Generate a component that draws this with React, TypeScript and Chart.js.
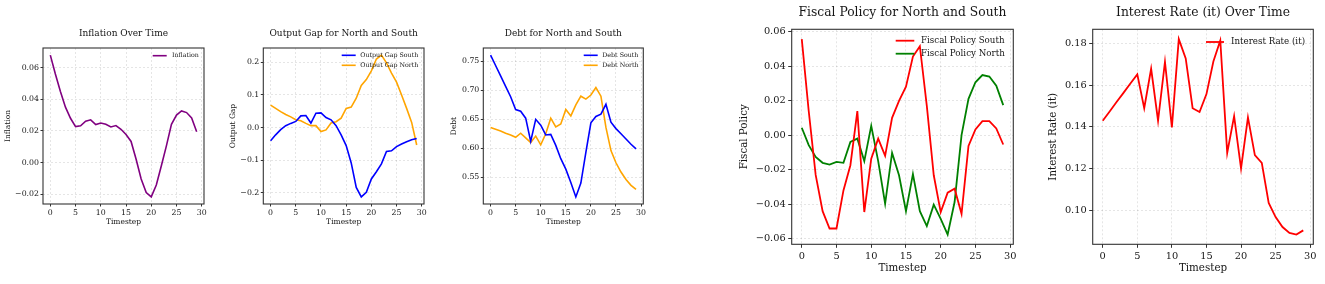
import React, { useEffect, useRef } from 'react';
import { Chart, registerables } from 'chart.js';

Chart.register(...registerables);

// ---------------- DATA ----------------
const timesteps = [0, 1, 2, 3, 4, 5, 6, 7, 8, 9, 10, 11, 12, 13, 14, 15, 16, 17, 18, 19, 20, 21, 22, 23, 24, 25, 26, 27, 28, 29];
const xTicks = [0, 5, 10, 15, 20, 25, 30];

const inflation = [0.068, 0.056, 0.045, 0.035, 0.028, 0.0227, 0.0232, 0.0261, 0.027, 0.024, 0.025, 0.0242, 0.0225, 0.0234, 0.021, 0.0177, 0.0133, 0.002, -0.0105, -0.019, -0.0218, -0.0143, -0.0021, 0.0105, 0.0242, 0.03, 0.0326, 0.0316, 0.0282, 0.0194];
const inflationTicks = [-0.02, 0, 0.02, 0.04, 0.06];

const outputGapSouth = [-0.04, -0.022, -0.006, 0.006, 0.013, 0.019, 0.036, 0.037, 0.014, 0.044, 0.045, 0.031, 0.024, 0.006, -0.022, -0.055, -0.108, -0.183, -0.212, -0.198, -0.157, -0.135, -0.111, -0.073, -0.071, -0.058, -0.05, -0.043, -0.037, -0.033];
const outputGapNorth = [0.069, 0.059, 0.049, 0.04, 0.033, 0.024, 0.021, 0.013, 0.006, 0.006, -0.012, -0.007, 0.014, 0.018, 0.029, 0.059, 0.063, 0.09, 0.129, 0.147, 0.174, 0.21, 0.222, 0.198, 0.167, 0.139, 0.1, 0.059, 0.016, -0.053];
const outputGapTicks = [-0.2, -0.1, 0, 0.1, 0.2];

const debtSouth = [0.761, 0.743, 0.725, 0.707, 0.689, 0.667, 0.664, 0.652, 0.612, 0.65, 0.64, 0.623, 0.624, 0.605, 0.582, 0.564, 0.541, 0.516, 0.54, 0.593, 0.644, 0.655, 0.659, 0.676, 0.645, 0.634, 0.625, 0.616, 0.607, 0.599];
const debtNorth = [0.636, 0.633, 0.63, 0.626, 0.623, 0.619, 0.626, 0.618, 0.61, 0.621, 0.606, 0.625, 0.652, 0.637, 0.642, 0.667, 0.656, 0.675, 0.69, 0.685, 0.692, 0.705, 0.69, 0.636, 0.596, 0.575, 0.559, 0.546, 0.536, 0.529];
const debtTicks = [0.55, 0.6, 0.65, 0.7, 0.75];

const fiscalSouth = [0.0556, 0.014, -0.023, -0.044, -0.054, -0.054, -0.032, -0.0174, 0.0139, -0.0445, -0.0136, -0.002, -0.012, 0.01, 0.0198, 0.028, 0.0455, 0.0515, 0.017, -0.0232, -0.0445, -0.0333, -0.031, -0.0455, -0.0062, 0.0033, 0.0081, 0.0081, 0.0039, -0.0054];
const fiscalNorth = [0.0043, -0.0058, -0.0126, -0.016, -0.017, -0.0155, -0.016, -0.0039, -0.002, -0.015, 0.0054, -0.015, -0.0397, -0.0103, -0.0232, -0.044, -0.0225, -0.044, -0.0526, -0.0402, -0.0484, -0.0575, -0.0387, 0.0, 0.021, 0.0306, 0.0348, 0.0339, 0.0286, 0.0174];
const fiscalTicks = [-0.06, -0.04, -0.02, 0, 0.02, 0.04, 0.06];

const interestRate = [0.143, 0.1474, 0.152, 0.1564, 0.1609, 0.1653, 0.149, 0.168, 0.143, 0.1713, 0.1398, 0.1823, 0.173, 0.149, 0.1472, 0.1558, 0.1715, 0.1816, 0.1275, 0.1452, 0.12, 0.1446, 0.1264, 0.1227, 0.1034, 0.0966, 0.0918, 0.089, 0.0882, 0.0902];
const interestTicks = [0.1, 0.12, 0.14, 0.16, 0.18];

// ---------------- STYLE / LAYOUT ----------------
const FONT = '"DejaVu Serif", serif';
const GRID = 'rgba(0,0,0,0.13)';
const TEXT = '#151515';
const FRAME = '#333333';

type Series = { label: string; values: number[]; color: string };
type Spec = {
  canvas: { left: number; top: number; width: number; height: number };
  area: { left: number; top: number; right: number; bottom: number };
  titleY: number;
  yLabelX: number;
  xLabelY: number;
  title: string;
  yLabel: string;
  series: Series[];
  yTicks: number[];
  yDecimals: number;
  fonts: { title: number; tick: number; label: number; legend: number };
  tickLen: number;
  tickPad: number;
  lineWidth: number;
  legend: { h1: number; h2: number; tx: number; top: number; gap: number };
};

const small = { title: 9, tick: 7.8, label: 7.5, legend: 6.3 };
const big = { title: 12.3, tick: 9.8, label: 10.3, legend: 8.7 };

const specs: Spec[] = [
  {
    canvas: { left: 0, top: 20, width: 215, height: 215 },
    area: { left: 43, top: 48, right: 204, bottom: 204 },
    titleY: 34, yLabelX: 8.3, xLabelY: 222,
    title: 'Inflation Over Time', yLabel: 'Inflation',
    series: [{ label: 'Inflation', values: inflation, color: '#800080' }],
    yTicks: inflationTicks, yDecimals: 2, fonts: small, tickLen: 2.5, tickPad: 1.5, lineWidth: 1.6,
    legend: { h1: -51.3, h2: -37.3, tx: -32, top: 7.7, gap: 10 },
  },
  {
    canvas: { left: 220, top: 20, width: 215, height: 215 },
    area: { left: 263.3, top: 48, right: 424, bottom: 204 },
    titleY: 34, yLabelX: 233.3, xLabelY: 222,
    title: 'Output Gap for North and South', yLabel: 'Output Gap',
    series: [
      { label: 'Output Gap South', values: outputGapSouth, color: '#0000ff' },
      { label: 'Output Gap North', values: outputGapNorth, color: '#ffa500' },
    ],
    yTicks: outputGapTicks, yDecimals: 1, fonts: small, tickLen: 2.5, tickPad: 1.5, lineWidth: 1.6,
    legend: { h1: -82.3, h2: -68.3, tx: -63.7, top: 7.3, gap: 10 },
  },
  {
    canvas: { left: 440, top: 20, width: 215, height: 215 },
    area: { left: 483.3, top: 48, right: 643.3, bottom: 204 },
    titleY: 34, yLabelX: 454, xLabelY: 222,
    title: 'Debt for North and South', yLabel: 'Debt',
    series: [
      { label: 'Debt South', values: debtSouth, color: '#0000ff' },
      { label: 'Debt North', values: debtNorth, color: '#ffa500' },
    ],
    yTicks: debtTicks, yDecimals: 2, fonts: small, tickLen: 2.5, tickPad: 1.5, lineWidth: 1.6,
    legend: { h1: -59.6, h2: -45.6, tx: -41, top: 7.3, gap: 10 },
  },
  {
    canvas: { left: 730, top: 0, width: 290, height: 284 },
    area: { left: 791.7, top: 29.3, right: 1013.3, bottom: 244.3 },
    titleY: 12.7, yLabelX: 744.3, xLabelY: 268,
    title: 'Fiscal Policy for North and South', yLabel: 'Fiscal Policy',
    series: [
      { label: 'Fiscal Policy South', values: fiscalSouth, color: '#ff0000' },
      { label: 'Fiscal Policy North', values: fiscalNorth, color: '#008000' },
    ],
    yTicks: fiscalTicks, yDecimals: 2, fonts: big, tickLen: 3.5, tickPad: 2.5, lineWidth: 1.8,
    legend: { h1: -117.6, h2: -99, tx: -92.3, top: 11.4, gap: 13 },
  },
  {
    canvas: { left: 1030, top: 0, width: 295, height: 284 },
    area: { left: 1092.7, top: 29.3, right: 1313.3, bottom: 244.3 },
    titleY: 12.7, yLabelX: 1053.3, xLabelY: 268,
    title: 'Interest Rate (it) Over Time', yLabel: 'Interest Rate (it)',
    series: [{ label: 'Interest Rate (it)', values: interestRate, color: '#ff0000' }],
    yTicks: interestTicks, yDecimals: 2, fonts: big, tickLen: 3.5, tickPad: 2.5, lineWidth: 1.8,
    legend: { h1: -107.3, h2: -89.3, tx: -82.3, top: 12.7, gap: 13 },
  },
];

function fmt(v: number, d: number): string {
  const s = Math.abs(v) < 1e-12 ? (0).toFixed(d) : v.toFixed(d);
  return s.replace('-', '\u2212');
}

const mplPlugin = {
  id: 'mpl',
  afterDatasetsDraw(chart: any, _args: any, opts: any) {
    const { ctx, chartArea: a } = chart;
    ctx.save();
    ctx.strokeStyle = FRAME;
    ctx.lineWidth = 1.1;
    ctx.strokeRect(a.left, a.top, a.right - a.left, a.bottom - a.top);
    ctx.font = `${opts.size}px ${FONT}`;
    ctx.textBaseline = 'middle';
    ctx.textAlign = 'left';
    chart.data.datasets.forEach((ds: any, i: number) => {
      const y = a.top + opts.top + i * opts.gap;
      ctx.strokeStyle = ds.borderColor;
      ctx.lineWidth = ds.borderWidth;
      ctx.beginPath();
      ctx.moveTo(a.right + opts.h1, y);
      ctx.lineTo(a.right + opts.h2, y);
      ctx.stroke();
      ctx.fillStyle = TEXT;
      ctx.fillText(ds.label, a.right + opts.tx, y);
    });
    ctx.restore();
  },
};

function Panel({ spec }: { spec: Spec }) {
  const ref = useRef<HTMLCanvasElement | null>(null);
  useEffect(() => {
    if (!ref.current) return;
    const c = spec.canvas;
    const a = spec.area;
    const lh = (s: number) => s * 1.2;
    const titlePadTop = spec.titleY - c.top - lh(spec.fonts.title) / 2;
    const titlePadBottom = a.top - c.top - lh(spec.fonts.title) - titlePadTop;
    const yScaleWidth = a.left - c.left;
    const yTitlePad = spec.yLabelX - c.left - lh(spec.fonts.label) / 2;
    const xScaleHeight = c.top + c.height - a.bottom;
    const xTitlePad = c.top + c.height - spec.xLabelY - lh(spec.fonts.label) / 2;

    const all = spec.series.flatMap((s) => s.values);
    const lo = Math.min(...all);
    const hi = Math.max(...all);
    const ym = (hi - lo) * 0.05;
    const x0 = timesteps[0];
    const x1 = timesteps[timesteps.length - 1];
    const xm = (x1 - x0) * 0.05;

    const tickFont = { family: FONT, size: spec.fonts.tick, lineHeight: 1.2 };
    const labelFont = { family: FONT, size: spec.fonts.label, lineHeight: 1.2 };

    const chart = new Chart(ref.current, {
      type: 'line',
      data: {
        datasets: spec.series.map((s) => ({
          label: s.label,
          data: s.values.map((v, i) => ({ x: timesteps[i], y: v })),
          borderColor: s.color,
          backgroundColor: s.color,
          borderWidth: spec.lineWidth,
          pointRadius: 0,
          tension: 0,
          fill: false,
        })),
      },
      options: {
        responsive: false,
        animation: false,
        devicePixelRatio: 1,
        layout: { padding: { left: 0, top: 0, bottom: 0, right: c.left + c.width - a.right } },
        plugins: {
          legend: { display: false },
          tooltip: { enabled: false },
          title: {
            display: true,
            text: spec.title,
            fullSize: false,
            color: TEXT,
            font: { family: FONT, size: spec.fonts.title, weight: 'normal', lineHeight: 1.2 },
            padding: { top: titlePadTop, bottom: titlePadBottom },
          },
          mpl: { ...spec.legend, size: spec.fonts.legend },
        } as any,
        scales: {
          x: {
            type: 'linear',
            min: x0 - xm,
            max: x1 + xm,
            bounds: 'data',
            afterBuildTicks: (s: any) => {
              s.ticks = xTicks.map((v) => ({ value: v }));
            },
            afterFit: (s: any) => {
              s.height = xScaleHeight;
            },
            ticks: {
              autoSkip: false,
              maxRotation: 0,
              padding: spec.tickPad,
              color: TEXT,
              font: tickFont,
              callback: (v: any) => String(v),
            },
            grid: { color: GRID, lineWidth: 0.8, tickLength: spec.tickLen, tickColor: FRAME, tickWidth: 1 },
            border: { display: false, dash: [2, 2] },
            title: { display: true, text: 'Timestep', color: TEXT, font: labelFont, padding: { top: 0, bottom: xTitlePad } },
          },
          y: {
            type: 'linear',
            min: lo - ym,
            max: hi + ym,
            bounds: 'data',
            afterBuildTicks: (s: any) => {
              s.ticks = spec.yTicks.map((v) => ({ value: v }));
            },
            afterFit: (s: any) => {
              s.width = yScaleWidth;
            },
            ticks: {
              autoSkip: false,
              padding: spec.tickPad,
              color: TEXT,
              font: tickFont,
              callback: (v: any) => fmt(Number(v), spec.yDecimals),
            },
            grid: { color: GRID, lineWidth: 0.8, tickLength: spec.tickLen, tickColor: FRAME, tickWidth: 1 },
            border: { display: false, dash: [2, 2] },
            title: { display: true, text: spec.yLabel, color: TEXT, font: labelFont, padding: { top: yTitlePad, bottom: 0 } },
          },
        },
      } as any,
      plugins: [mplPlugin as any],
    });
    return () => chart.destroy();
  }, [spec]);

  const c = spec.canvas;
  return (
    <canvas
      ref={ref}
      width={c.width}
      height={c.height}
      style={{ position: 'absolute', left: c.left, top: c.top, width: c.width, height: c.height }}
    />
  );
}

export default function App() {
  return (
    <div style={{ position: 'absolute', left: 0, top: 0, width: 1325, height: 284, background: '#ffffff', overflow: 'hidden' }}>
      {specs.map((s, i) => (
        <Panel key={i} spec={s} />
      ))}
    </div>
  );
}
